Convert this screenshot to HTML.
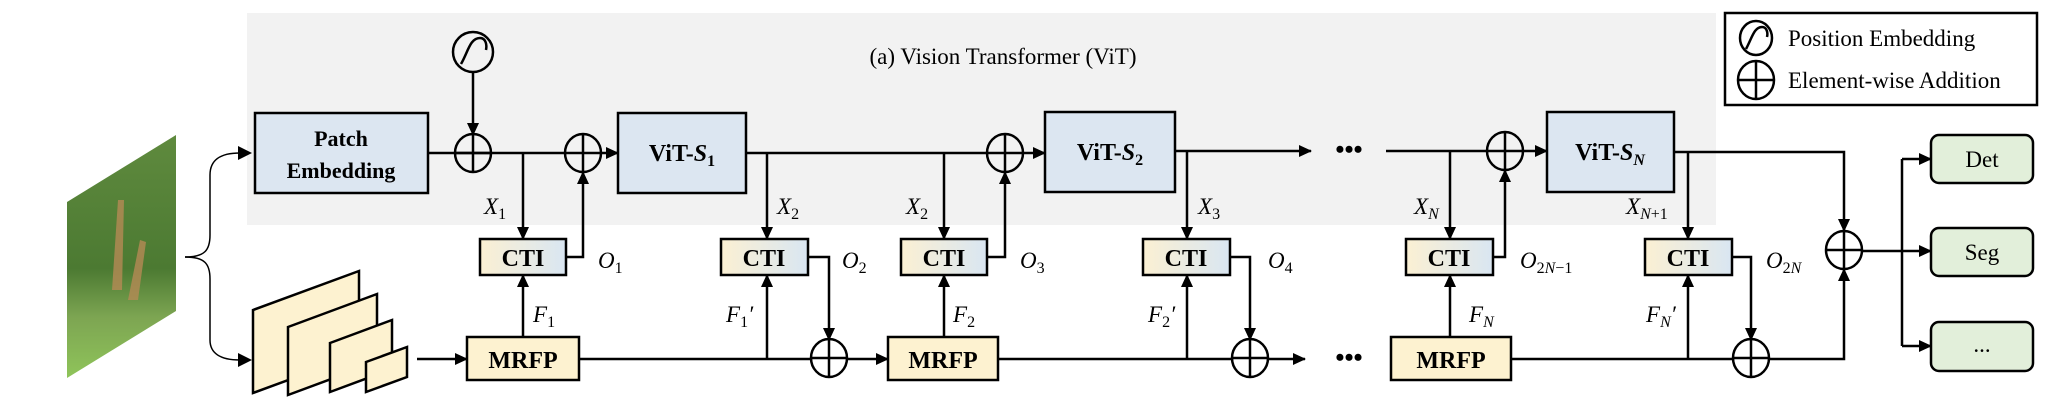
<!DOCTYPE html>
<html><head><meta charset="utf-8"><style>
html,body{margin:0;padding:0;background:#fff;}
svg{display:block;}
.b{font-family:"Liberation Serif",serif;font-weight:bold;}
.s{font-family:"Liberation Serif",serif;}
.m{font-family:"Liberation Serif",serif;font-style:italic;font-size:23px;}
.m tspan.sub{font-size:16px;font-style:normal;}
</style></head><body>
<svg width="2046" height="408" viewBox="0 0 2046 408" xmlns="http://www.w3.org/2000/svg">
<defs>
<marker id="a" markerUnits="userSpaceOnUse" markerWidth="14" markerHeight="12" refX="12" refY="6" orient="auto"><path d="M0,0 L13,6 L0,12 z" fill="#000"/></marker>
<linearGradient id="cti" x1="0" x2="1" y1="0" y2="0"><stop offset="0" stop-color="#fbf0d3"/><stop offset="1" stop-color="#d9e6f2"/></linearGradient>
<linearGradient id="img" x1="0" y1="0" x2="0" y2="1"><stop offset="0" stop-color="#5f8a3e"/><stop offset="0.55" stop-color="#4c7a32"/><stop offset="0.75" stop-color="#7da552"/><stop offset="1" stop-color="#8fc45a"/></linearGradient>
<g id="p"><ellipse cx="0" cy="0" rx="18" ry="19"/><line x1="-18" y1="0" x2="18" y2="0"/><line x1="0" y1="-19" x2="0" y2="19"/></g>
</defs>
<rect x="247" y="13" width="1469" height="212" fill="#f2f2f2"/>
<text x="1003" y="64" class="s" font-size="23" text-anchor="middle">(a) Vision Transformer (ViT)</text>

<!-- image -->
<polygon points="67,202 176,135 176,311 67,378" fill="url(#img)"/>
<path d="M112,290 L118,200 L124,200 L122,290 Z M128,300 L140,240 L146,242 L138,300Z" fill="#b58a55" opacity="0.8"/>
<!-- brace -->
<path d="M185,257 C205,257 210,250 210,235 L210,175 C210,160 220,153 240,153" fill="none" stroke="#000" stroke-width="1.5"/>
<path d="M185,257 C205,257 210,264 210,279 L210,340 C210,353 220,360 240,360" fill="none" stroke="#000" stroke-width="1.5"/>
<polygon points="252,153 238,146 238,160"/>
<polygon points="252,360 238,353 238,367"/>

<!-- feature stack -->
<g fill="#fdf2d0" stroke="#000" stroke-width="2.5">
<polygon points="253,310 359,271 359,354 253,393"/>
<polygon points="288,327 377,294 377,362 288,395"/>
<polygon points="330,343 392,320 392,369 330,392"/>
<polygon points="366,362 407,347 407,377 366,392"/>
</g>

<g stroke="#000" stroke-width="2.5" fill="none">
<rect x="255" y="113" width="173" height="80" fill="#dce6f1"/>
<rect x="618" y="113" width="128" height="80" fill="#dce6f1"/>
<rect x="1045" y="112" width="130" height="80" fill="#dce6f1"/>
<rect x="1547" y="112" width="127" height="80" fill="#dce6f1"/>
<rect x="480" y="239" width="86" height="36" fill="url(#cti)"/>
<rect x="721" y="239" width="87" height="36" fill="url(#cti)"/>
<rect x="901" y="239" width="86" height="36" fill="url(#cti)"/>
<rect x="1143" y="239" width="87" height="36" fill="url(#cti)"/>
<rect x="1406" y="239" width="87" height="36" fill="url(#cti)"/>
<rect x="1645" y="239" width="87" height="36" fill="url(#cti)"/>
<rect x="467" y="337" width="112" height="43" fill="#fdf2d0"/>
<rect x="888" y="337" width="110" height="43" fill="#fdf2d0"/>
<rect x="1391" y="337" width="120" height="43" fill="#fdf2d0"/>
<rect x="1931" y="135" width="102" height="48" rx="8" fill="#e2efda"/>
<rect x="1931" y="228" width="102" height="48" rx="8" fill="#e2efda"/>
<rect x="1931" y="322" width="102" height="49" rx="8" fill="#e2efda"/>
<rect x="1725" y="13" width="312" height="92" fill="#fff"/>
</g>

<g stroke="#000" stroke-width="2.5" fill="none">
<line x1="428" y1="153" x2="565" y2="153"/>
<line x1="601" y1="153" x2="618" y2="153" marker-end="url(#a)"/>
<line x1="473" y1="72" x2="473" y2="135" marker-end="url(#a)"/>
<line x1="523" y1="153" x2="523" y2="239" marker-end="url(#a)"/>
<polyline points="566,257 583,257 583,172" marker-end="url(#a)"/>
<line x1="746" y1="153" x2="987" y2="153"/>
<line x1="1023" y1="153" x2="1045" y2="153" marker-end="url(#a)"/>
<line x1="767" y1="153" x2="767" y2="239" marker-end="url(#a)"/>
<line x1="944" y1="153" x2="944" y2="239" marker-end="url(#a)"/>
<polyline points="987,257 1005,257 1005,172" marker-end="url(#a)"/>
<line x1="1175" y1="151" x2="1311" y2="151" marker-end="url(#a)"/>
<line x1="1187" y1="151" x2="1187" y2="239" marker-end="url(#a)"/>
<line x1="1386" y1="151" x2="1487" y2="151"/>
<line x1="1523" y1="151" x2="1547" y2="151" marker-end="url(#a)"/>
<line x1="1450" y1="151" x2="1450" y2="239" marker-end="url(#a)"/>
<polyline points="1493,257 1505,257 1505,170" marker-end="url(#a)"/>
<polyline points="1674,152 1844,152 1844,231" marker-end="url(#a)"/>
<line x1="1688" y1="152" x2="1688" y2="239" marker-end="url(#a)"/>
<line x1="417" y1="359" x2="467" y2="359" marker-end="url(#a)"/>
<line x1="523" y1="337" x2="523" y2="275" marker-end="url(#a)"/>
<line x1="579" y1="359" x2="811" y2="359"/>
<line x1="847" y1="359" x2="888" y2="359" marker-end="url(#a)"/>
<line x1="767" y1="359" x2="767" y2="275" marker-end="url(#a)"/>
<polyline points="808,257 829,257 829,340" marker-end="url(#a)"/>
<line x1="944" y1="337" x2="944" y2="275" marker-end="url(#a)"/>
<line x1="998" y1="359" x2="1232" y2="359"/>
<line x1="1268" y1="359" x2="1305" y2="359" marker-end="url(#a)"/>
<line x1="1187" y1="359" x2="1187" y2="275" marker-end="url(#a)"/>
<polyline points="1230,257 1250,257 1250,340" marker-end="url(#a)"/>
<line x1="1450" y1="337" x2="1450" y2="275" marker-end="url(#a)"/>
<line x1="1511" y1="359" x2="1733" y2="359"/>
<polyline points="1769,359 1844,359 1844,269" marker-end="url(#a)"/>
<line x1="1688" y1="359" x2="1688" y2="275" marker-end="url(#a)"/>
<polyline points="1732,257 1751,257 1751,340" marker-end="url(#a)"/>
<line x1="1862" y1="251" x2="1931" y2="251" marker-end="url(#a)"/>
<line x1="1902" y1="159" x2="1902" y2="346"/>
<line x1="1902" y1="159" x2="1931" y2="159" marker-end="url(#a)"/>
<line x1="1902" y1="346" x2="1931" y2="346" marker-end="url(#a)"/>
</g>

<g stroke="#000" stroke-width="2.5" fill="none">
<use href="#p" transform="translate(473,153)"/>
<use href="#p" transform="translate(583,153)"/>
<use href="#p" transform="translate(1005,153)"/>
<use href="#p" transform="translate(1505,151)"/>
<use href="#p" transform="translate(1844,250)"/>
<use href="#p" transform="translate(829,358)"/>
<use href="#p" transform="translate(1250,358)"/>
<use href="#p" transform="translate(1751,358)"/>
<use href="#p" transform="translate(1756,80)"/>
<ellipse cx="473" cy="52" rx="20" ry="20"/>
<path d="M461,64 C468,52 470,38 480,38 C486,38 487,45 486,50" />
<ellipse cx="1756" cy="38" rx="16" ry="17"/>
<path d="M1746,49 C1752,38 1754,27 1762,27 C1767,27 1768,33 1767,37"/>
</g>

<text x="1349" y="158" class="b" font-size="26" text-anchor="middle">•••</text>
<text x="1349" y="366" class="b" font-size="26" text-anchor="middle">•••</text>

<g class="b" text-anchor="middle" font-size="24">
<text x="341" y="146" font-size="22">Patch</text>
<text x="341" y="178" font-size="22">Embedding</text>
<text x="682" y="161">ViT-<tspan font-style="italic">S</tspan><tspan font-size="16" dy="5">1</tspan></text>
<text x="1110" y="160">ViT-<tspan font-style="italic">S</tspan><tspan font-size="16" dy="5">2</tspan></text>
<text x="1610" y="160">ViT-<tspan font-style="italic">S</tspan><tspan font-size="16" dy="5" font-style="italic">N</tspan></text>
<text x="523" y="266">CTI</text>
<text x="764" y="266">CTI</text>
<text x="944" y="266">CTI</text>
<text x="1186" y="266">CTI</text>
<text x="1449" y="266">CTI</text>
<text x="1688" y="266">CTI</text>
<text x="523" y="368">MRFP</text>
<text x="943" y="368">MRFP</text>
<text x="1451" y="368">MRFP</text>
</g>
<g class="s" text-anchor="middle" font-size="23">
<text x="1982" y="167">Det</text>
<text x="1982" y="260">Seg</text>
<text x="1982" y="352">...</text>
</g>
<g class="s" font-size="23">
<text x="1788" y="46">Position Embedding</text>
<text x="1788" y="88">Element-wise Addition</text>
</g>

<g class="m">
<text x="484" y="214">X<tspan class="sub" dy="5">1</tspan></text>
<text x="777" y="214">X<tspan class="sub" dy="5">2</tspan></text>
<text x="906" y="214">X<tspan class="sub" dy="5">2</tspan></text>
<text x="1198" y="214">X<tspan class="sub" dy="5">3</tspan></text>
<text x="1414" y="214">X<tspan class="sub" dy="5" style="font-style:italic">N</tspan></text>
<text x="1626" y="214">X<tspan class="sub" dy="5"><tspan style="font-style:italic">N</tspan>+1</tspan></text>
<text x="533" y="322">F<tspan class="sub" dy="5">1</tspan></text>
<text x="726" y="322">F<tspan class="sub" dy="5">1</tspan><tspan dy="-5">′</tspan></text>
<text x="953" y="322">F<tspan class="sub" dy="5">2</tspan></text>
<text x="1148" y="322">F<tspan class="sub" dy="5">2</tspan><tspan dy="-5">′</tspan></text>
<text x="1469" y="322">F<tspan class="sub" dy="5" style="font-style:italic">N</tspan></text>
<text x="1646" y="322">F<tspan class="sub" dy="5" style="font-style:italic">N</tspan><tspan dy="-5">′</tspan></text>
<text x="598" y="268">O<tspan class="sub" dy="5">1</tspan></text>
<text x="842" y="268">O<tspan class="sub" dy="5">2</tspan></text>
<text x="1020" y="268">O<tspan class="sub" dy="5">3</tspan></text>
<text x="1268" y="268">O<tspan class="sub" dy="5">4</tspan></text>
<text x="1520" y="268">O<tspan class="sub" dy="5">2<tspan style="font-style:italic">N</tspan>−1</tspan></text>
<text x="1766" y="268">O<tspan class="sub" dy="5">2<tspan style="font-style:italic">N</tspan></tspan></text>
</g>
</svg>
</body></html>
